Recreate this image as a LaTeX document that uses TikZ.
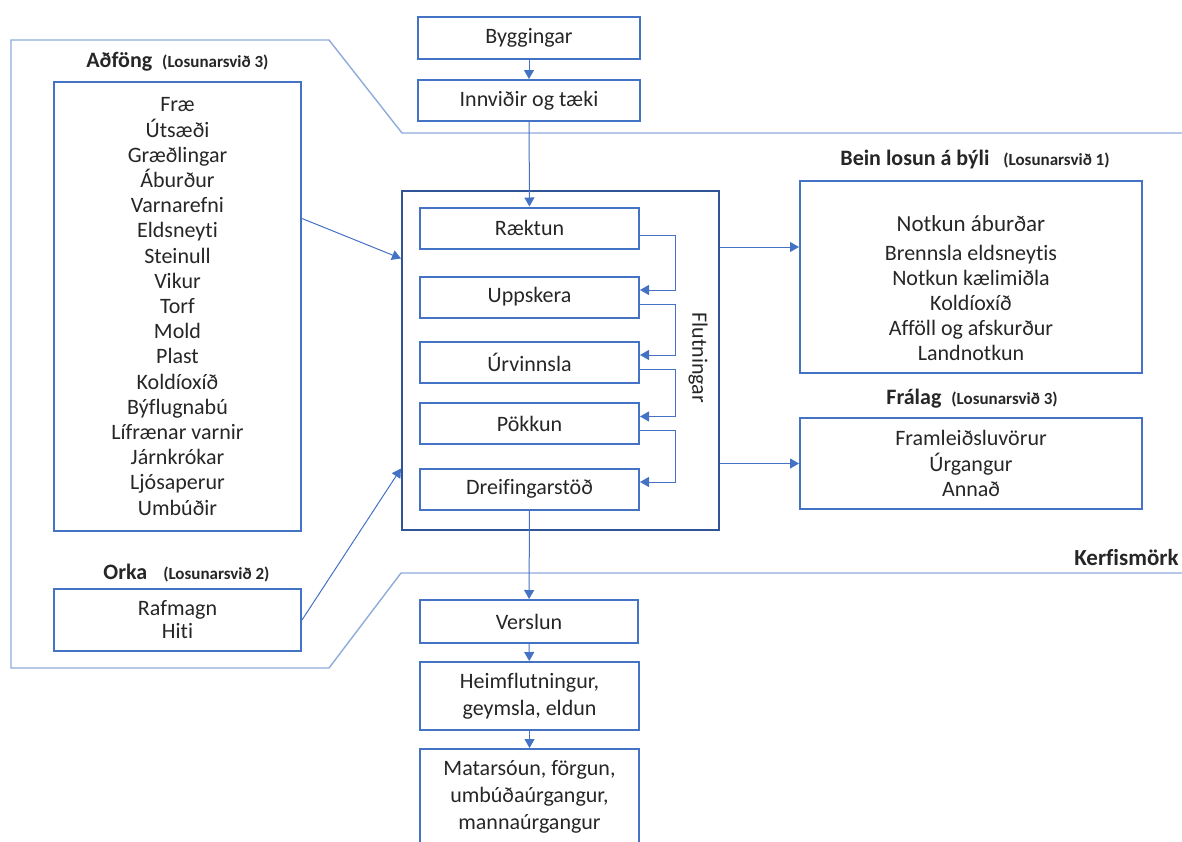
\documentclass[tikz,border=0pt]{standalone}
\usepackage{fontspec}
\setmainfont{Carlito}[Ligatures=NoCommon]
\usetikzlibrary{arrows.meta}
\definecolor{boxblue}{HTML}{4472C4}
\definecolor{lineblue}{HTML}{8FAADC}
\definecolor{frameblue}{HTML}{2F5597}
\definecolor{txt}{HTML}{262626}
\tikzset{
  box/.style={draw=boxblue, line width=1pt, text=txt, align=center, inner sep=0pt, font=\fontsize{11}{12.6}\selectfont},
  stepbox/.style={box, minimum width=109.5pt, minimum height=20.5pt},
  flow/.style={draw=boxblue, line width=0.5pt, -{Triangle[length=4.5pt,width=5pt]}},
  head/.style={anchor=west, inner sep=0pt, text=txt, font=\fontsize{11}{13}\selectfont\bfseries},
}
\begin{document}
\begin{tikzpicture}[x=0.5pt,y=-0.5pt]
\useasboundingbox (0,0) rectangle (1182,841);

%Straight Lines: system boundary
\draw [lineblue, line width=0.7pt] (1182,133) -- (402,133) -- (329,40) -- (11,40) -- (11,668) -- (329,668) -- (401,573) -- (1182,573) ;

%Shape: Rectangle
\node [box, minimum width=111pt, minimum height=21pt] (bygg) at (529,38) {Byggingar};
%Shape: Rectangle
\node [box, minimum width=111pt, minimum height=20.5pt] (innv) at (529,100.5) {Innviðir og tæki};

%Shape: Rectangle
\node [draw=frameblue, line width=1pt, minimum width=158.5pt, minimum height=169.5pt, inner sep=0pt] (flutbox) at (560.5,360.5) {};
%Shape: Rectangle
\node [stepbox] (raektun) at (529.5,228) {Ræktun};
\node [stepbox] (uppsk) at (529.5,297) {Uppskera};
\node [stepbox] (urvinn) at (529.5,362) {Úrvinnsla};
\node [stepbox] (pokk) at (529.5,423.5) {Pökkun};
\node [stepbox] (dreif) at (529.5,489) {Dreifingarstöð};
% Text Node
\node [rotate=-90, text=txt, inner sep=0pt, font=\fontsize{11}{13}\selectfont] (flut) at (698,358) {Flutningar};

%Shape: Rectangle
\node [box, minimum width=123.5pt, minimum height=224.5pt] (adfong) at (177.5,306.5) {Fræ\\Útsæði\\Græðlingar\\Áburður\\Varnarefni\\Eldsneyti\\Steinull\\Vikur\\Torf\\Mold\\Plast\\Koldíoxíð\\Býflugnabú\\Lífrænar varnir\\Járnkrókar\\Ljósaperur\\Umbúðir};
% Text Node
\node [head] (adfhead) at (86,62) {Aðföng\hspace{5pt}{\fontsize{8.5}{10}\selectfont(Losunarsvið 3)}};

%Shape: Rectangle
\node [box, minimum width=123.5pt, minimum height=31pt, font=\fontsize{11}{11.5}\selectfont] (orka) at (177.5,620) {Rafmagn\\Hiti};
% Text Node
\node [head] (orkahead) at (103,573) {Orka\hspace{8pt}{\fontsize{8.5}{10}\selectfont(Losunarsvið 2)}};

%Shape: Rectangle
\node [box, minimum width=171pt, minimum height=96pt] (bein) at (971,277) {};
% Text Node
\node [text=txt, align=center, inner sep=0pt, font=\fontsize{11}{12.6}\selectfont] (beintxt) at (971,288) {{\fontsize{11.5}{13}\selectfont Notkun áburðar}\\[1.9pt]Brennsla eldsneytis\\Notkun kælimiðla\\Koldíoxíð\\Afföll og afskurður\\Landnotkun};
% Text Node
\node [head] (beinhead) at (840,160) {Bein losun á býli\hspace{7pt}{\fontsize{8.5}{10}\selectfont(Losunarsvið 1)}};

%Shape: Rectangle
\node [box, minimum width=171pt, minimum height=45.5pt] (fralag) at (971,463.5) {Framleiðsluvörur\\Úrgangur\\Annað};
% Text Node
\node [head] (fralaghead) at (886,399) {Frálag\hspace{5pt}{\fontsize{8.5}{10}\selectfont(Losunarsvið 3)}};

% Text Node
\node [head, anchor=east, font=\fontsize{11.5}{13}\selectfont\bfseries] (kerf) at (1179,558) {Kerfismörk};

%Shape: Rectangle
\node [box, minimum width=109pt, minimum height=21.5pt] (verslun) at (529,621.5) {Verslun};
\node [box, minimum width=109.5pt, minimum height=34pt, font=\fontsize{11}{13.5}\selectfont] (heim) at (529.5,696) {Heimflutningur,\\geymsla, eldun};
\node [box, minimum width=109.5pt, minimum height=48pt, font=\fontsize{11}{13.5}\selectfont] (matar) at (529.5,797) {Matarsóun, förgun,\\umbúðaúrgangur,\\mannaúrgangur};

%Straight Lines
\draw [flow] (bygg) -- (innv) ;
\draw [flow] (innv) -- (raektun) ;
\foreach \a/\b in {raektun/uppsk, uppsk/urvinn, urvinn/pokk, pokk/dreif}
  \draw [flow] ([yshift=-3.5pt]\a.east) -- ++(17.5pt,0) |- ([yshift=3.5pt]\b.east) ;
\draw [flow] ([yshift=44pt]adfong.east) -- ([yshift=51pt]flutbox.west) ;
\draw [flow] (orka.east) -- ([yshift=-54pt]flutbox.west) ;
\coordinate (b1) at ([yshift=15pt]bein.west);
\draw [flow] (flutbox.east |- b1) -- (b1) ;
\draw [flow] (flutbox.east |- fralag.west) -- (fralag.west) ;
\draw [flow] (dreif) -- (verslun) ;
\draw [flow] (verslun) -- (heim) ;
\draw [flow] (heim) -- (matar) ;

\end{tikzpicture}
\end{document}
